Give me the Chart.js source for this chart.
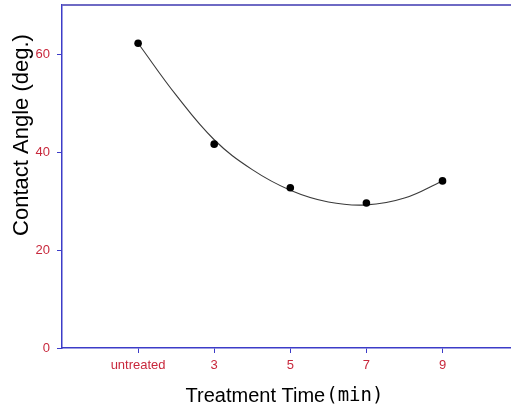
<!DOCTYPE html>
<html>
<head>
<meta charset="utf-8">
<script src="https://cdn.jsdelivr.net/npm/chart.js@4.4.1/dist/chart.umd.min.js"></script>
<style>
  html, body { margin: 0; padding: 0; background: #fff; }
  #wrap { width: 511px; height: 409px; }
</style>
</head>
<body>
<div id="wrap"><canvas id="chart" width="511" height="409"></canvas></div>
<script>
// ─── Data ─── //
const xTicks = [1, 3, 5, 7, 9];
const xLabels = ['untreated', '3', '5', '7', '9'];
const yTicks = [0, 20, 40, 60];

// measured contact angles
const pointX = [1, 3, 5, 7, 9];
const pointY = [62.2, 41.6, 32.7, 29.6, 34.1];

// fitted curve, sampled from the drawn line
const curveX = [1, 2, 3, 4, 5, 6, 7, 8, 9];
const curveY = [62.2, 51.6, 42.5, 36.4, 32.2, 29.8, 29.2, 30.6, 34.1];

const yTitle = 'Contact Angle (deg.)';
const xTitleMain = 'Treatment Time';
const xTitleUnit = '(min)';

// Colors
const AXIS = '#3c3cc8';
const FRAME_TOP = '#6e6ac4';
const TICK_TEXT = '#c8283c';

const toXY = (xs, ys) => xs.map((x, i) => ({ x, y: ys[i] }));

// top border + axis titles (x title mixes two fonts)
const framePlugin = {
  id: 'frame',
  afterDraw(chart) {
    const { ctx, chartArea } = chart;
    const { left, top, right } = chartArea;
    ctx.save();
    ctx.strokeStyle = FRAME_TOP;
    ctx.lineWidth = 2;
    ctx.beginPath();
    ctx.moveTo(left, top);
    ctx.lineTo(right, top);
    ctx.stroke();

    ctx.fillStyle = '#000';
    ctx.textBaseline = 'middle';

    // y title
    ctx.save();
    ctx.translate(22, 135);
    ctx.rotate(-Math.PI / 2);
    ctx.font = '22px "Liberation Sans", Arial, sans-serif';
    ctx.textAlign = 'center';
    ctx.fillText(yTitle, 0, 0);
    ctx.restore();

    // x title
    const mainFont = '20px "Liberation Sans", Arial, sans-serif';
    const unitFont = '19px "DejaVu Sans Mono", monospace';
    ctx.font = mainFont;
    const w1 = ctx.measureText(xTitleMain).width;
    ctx.font = unitFont;
    const w2 = ctx.measureText(xTitleUnit).width;
    const startX = 284 - (w1 + w2) / 2;
    const ty = 396;
    ctx.textAlign = 'left';
    ctx.font = mainFont;
    ctx.fillText(xTitleMain, startX, ty);
    ctx.font = unitFont;
    ctx.fillText(xTitleUnit, startX + w1 + 1, ty);
    ctx.restore();
  }
};

new Chart(document.getElementById('chart'), {
  type: 'scatter',
  data: {
    datasets: [
      {
        label: 'points',
        data: toXY(pointX, pointY),
        showLine: false,
        pointRadius: 3.8,
        pointBackgroundColor: '#000',
        pointBorderColor: '#000',
        pointBorderWidth: 0,
        order: 1,
      },
      {
        label: 'fit',
        data: toXY(curveX, curveY),
        showLine: true,
        borderColor: '#3a3a3a',
        borderWidth: 1.1,
        tension: 0.4,
        pointRadius: 0,
        order: 2,
      }
    ]
  },
  options: {
    responsive: false,
    animation: false,
    devicePixelRatio: 1,
    layout: { autoPadding: false, padding: { top: 5, right: 0, left: 0, bottom: 0 } },
    scales: {
      x: {
        type: 'linear',
        min: -1,
        max: 10.8,
        afterBuildTicks: (scale) => { scale.ticks = xTicks.map(v => ({ value: v })); },
        afterFit: (scale) => {
          scale.height = 61;
          scale.paddingLeft = 0;
          scale.paddingRight = 0;
        },
        grid: { drawOnChartArea: false, drawTicks: true, tickLength: 5, color: AXIS },
        border: { display: true, color: AXIS, width: 1.5 },
        ticks: {
          padding: 5,
          maxRotation: 0,
          color: TICK_TEXT,
          font: { family: '"Liberation Sans", Arial, sans-serif', size: 13 },
          callback: (v) => xLabels[xTicks.indexOf(v)]
        }
      },
      y: {
        min: 0,
        max: 70,
        afterBuildTicks: (scale) => { scale.ticks = yTicks.map(v => ({ value: v })); },
        afterFit: (scale) => {
          scale.width = 62;
          scale.paddingTop = 0;
          scale.paddingBottom = 0;
        },
        grid: { drawOnChartArea: false, drawTicks: true, tickLength: 5, color: AXIS },
        border: { display: true, color: AXIS, width: 1.5 },
        ticks: {
          padding: 7,
          color: TICK_TEXT,
          font: { family: '"Liberation Sans", Arial, sans-serif', size: 13 }
        }
      }
    },
    plugins: {
      legend: { display: false },
      tooltip: { enabled: false }
    }
  },
  plugins: [framePlugin]
});
</script>
</body>
</html>
